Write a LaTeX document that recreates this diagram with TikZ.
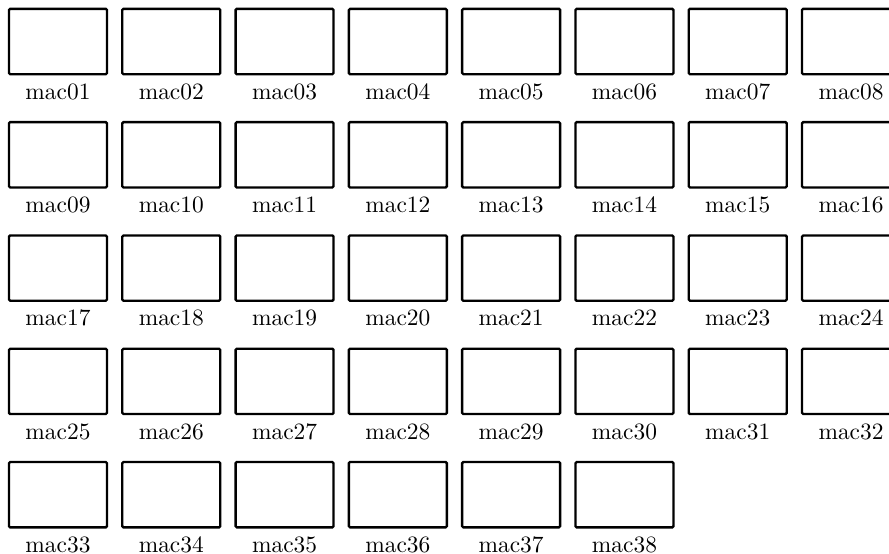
\documentclass[tikz,border=0pt]{standalone}
\begin{document}
\begin{tikzpicture}[
  macbox/.style={draw, line width=1pt, rounded corners=0.5pt, minimum width=1.47cm, minimum height=0.98cm, inner sep=0pt},
  maclab/.style={inner sep=0pt, anchor=base}
]
\useasboundingbox (0,0) rectangle (13.34,-8.31);
\foreach \n in {1,...,38}{
  \pgfmathtruncatemacro{\c}{mod(\n-1,8)}
  \pgfmathtruncatemacro{\r}{div(\n-1,8)}
  \ifnum\n<10 \def\lab{mac0\n}\else\def\lab{mac\n}\fi
  \node[macbox] (m\n) at ({0.87+1.7*\c},{-0.623-1.7*\r}) {};
  \node[maclab] (l\n) at ([yshift=-0.36cm]m\n.south) {\lab};
}
\end{tikzpicture}
\end{document}
